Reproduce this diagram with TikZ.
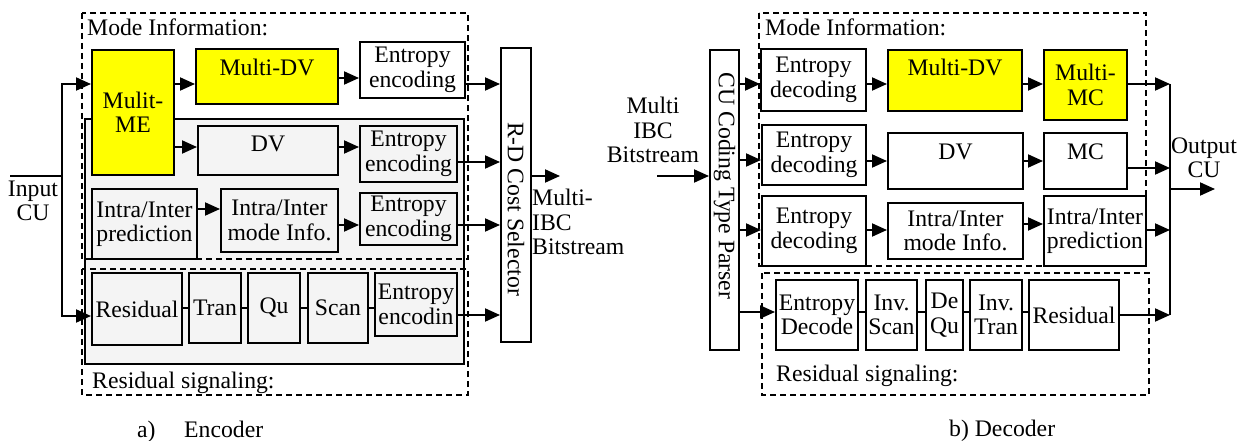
\documentclass[tikz,border=0pt]{standalone}
\usepackage{fontspec}
\setmainfont{Liberation Serif}
\usetikzlibrary{arrows.meta}
\definecolor{hiyel}{RGB}{255,255,0}
\definecolor{areagray}{RGB}{244,244,244}
\newcommand\mkbox[7]{%
  \pgfmathsetmacro\mbw{#5-#3}\pgfmathsetmacro\mbh{#6-#4}%
  \pgfmathsetmacro\mbx{(#3+#5)/2}\pgfmathsetmacro\mby{(#4+#6)/2}%
  \node[#1, minimum width=\mbw pt, minimum height=\mbh pt] (#2) at (\mbx,\mby) {#7};}
\begin{document}
\begin{tikzpicture}[x=1pt,y=-1pt,
  every node/.style={font=\fontsize{23.7}{24.5}\selectfont, text=black},
  box/.style={draw, line width=2pt, inner sep=0pt, align=center, fill=white},
  ybox/.style={box, fill=hiyel},
  gbox/.style={box, fill=areagray},
  area/.style={draw, line width=2pt, fill=areagray},
  dbox/.style={draw, line width=1.6pt, dash pattern=on 6pt off 4pt},
  arr/.style={line width=2pt, -{Triangle[length=15pt,width=13pt]}},
  link/.style={line width=2pt},
  lbl/.style={inner sep=0pt, align=left}]
\useasboundingbox (0,0) rectangle (1247,441);
\foreach \v in {78,84,147,160,161,162,168,209,224,225,230,308,312,315,316}
  \coordinate (h\v) at (0,\v);

% ================= ENCODER =================
\draw[area] (85,119) rectangle (464,364);
\draw[dbox] (82,13) rectangle (468,259);
\draw[dbox] (82,269) rectangle (468,395);
\node[lbl, anchor=base west] (emi) at (87,36) {Mode Information:};
\node[lbl, anchor=base west] (ers) at (92,388) {Residual signaling:};

\mkbox{ybox}{ME}{92}{50}{174}{175}{Mulit-\\ME}
\mkbox{ybox, text depth=19pt}{MDV}{196}{49}{338}{104}{Multi-DV}
\mkbox{box}{EE1}{360}{42}{465}{98}{Entropy\\encoding}
\mkbox{gbox, text depth=14pt}{DV}{198}{126}{338}{175}{DV}
\mkbox{gbox}{EE2}{360}{126}{457}{182}{Entropy\\encoding}
\mkbox{gbox}{IP}{92}{189}{197}{259}{Intra/Inter\\prediction}
\mkbox{gbox}{IM}{221}{189}{338}{252}{Intra/Inter\\mode Info.}
\mkbox{gbox}{EE3}{360}{193}{457}{245}{Entropy\\encoding}
\mkbox{gbox}{RES}{92}{273}{182}{345}{Residual}
\mkbox{gbox}{TR}{189}{273}{241}{343}{Tran}
\mkbox{gbox}{QU}{248}{273}{300}{343}{Qu}
\mkbox{gbox}{SC}{308}{273}{368}{343}{Scan}
\mkbox{gbox}{EEN}{375}{273}{457}{336}{Entropy\\encodin}
\mkbox{box}{RD}{501}{48}{531}{342}{\rotatebox{-90}{\hspace*{28pt}R-D Cost Selector}}

\node[lbl, align=center] (incu) at (33,201) {Input\\CU};
\coordinate (inl) at (10,176);
\coordinate (inj) at (62,176);
\draw[link] (inl) -- (inj);
\draw[arr] (inj) |- (ME.west |- h84);
\draw[arr] (inj) |- (RES.west |- h316);

\draw[arr] (ME.east |- h84) -- (MDV.west |- h84);
\draw[arr] (MDV.east |- h78) -- (EE1.west |- h78);
\draw[arr] (ME.east |- h147) -- (DV.west |- h147);
\draw[arr] (DV.east |- h147) -- (EE2.west |- h147);
\draw[arr] (IP.east |- h209) -- (IM.west |- h209);
\draw[arr] (IM.east |- h225) -- (EE3.west |- h225);
\draw[link] (RES.east |- h308) -- (TR.west |- h308);
\draw[link] (TR.east |- h308) -- (QU.west |- h308);
\draw[link] (QU.east |- h308) -- (SC.west |- h308);
\draw[link] (SC.east |- h308) -- (EEN.west |- h308);
\draw[arr] (EE1.east |- h84) -- (RD.west |- h84);
\draw[arr] (EE2.east |- h162) -- (RD.west |- h162);
\draw[arr] (EE3.east |- h225) -- (RD.west |- h225);
\draw[arr] (EEN.east |- h315) -- (RD.west |- h315);
\coordinate (eout) at (560,176);
\draw[arr] (RD.east |- eout) -- (eout);
\node[lbl, anchor=west] (ebits) at (532,222) {Multi-\\IBC\\Bitstream};

% ================= DECODER =================
\draw[dbox] (759,13) rectangle (1146,266);
\draw[dbox] (762,273) rectangle (1149,395);
\node[lbl, anchor=base west] (dmi) at (765,36) {Mode Information:};
\node[lbl, anchor=base west] (drs) at (776,381) {Residual signaling:};
\node[lbl, align=center] (dbits) at (653,130) {Multi\\IBC\\Bitstream};

\mkbox{box}{PR}{710}{50}{739}{350}{\rotatebox{-90}{CU Coding Type Parser\hspace*{28pt}}}
\coordinate (din) at (657,176);
\draw[arr] (din) -- (PR.west |- din);

\mkbox{box}{ED1}{761}{49}{866}{111}{Entropy\\decoding}
\mkbox{ybox, text depth=26pt}{MDV2}{888}{50}{1022}{111}{Multi-DV}
\mkbox{ybox}{MMC}{1044}{50}{1127}{120}{Multi-\\MC}
\mkbox{box}{ED2}{762}{125}{866}{185}{Entropy\\decoding}
\mkbox{box, text depth=18pt}{DV2}{888}{133}{1023}{189}{DV}
\mkbox{box, text depth=18pt}{MC}{1044}{133}{1127}{189}{MC}
\mkbox{box}{ED3}{762}{196}{866}{266}{Entropy\\decoding}
\mkbox{box}{IM2}{888}{203}{1023}{259}{Intra/Inter\\mode Info.}
\mkbox{box}{IP2}{1044}{196}{1146}{266}{Intra/Inter\\prediction}
\mkbox{box}{EDC}{776}{280}{858}{350}{Entropy\\Decode}
\mkbox{box}{IS}{866}{280}{917}{350}{Inv.\\Scan}
\mkbox{box}{DQ}{926}{280}{963}{350}{De\\Qu}
\mkbox{box}{IT}{970}{280}{1022}{350}{Inv.\\Tran}
\mkbox{box}{RS2}{1029}{280}{1119}{350}{Residual}

\draw[arr] (PR.east |- h84) -- (ED1.west |- h84);
\draw[arr] (PR.east |- h160) -- (ED2.west |- h160);
\draw[arr] (PR.east |- h230) -- (ED3.west |- h230);
\draw[arr] (PR.east |- h312) -- (EDC.west |- h312);
\draw[arr] (ED1.east |- h84) -- (MDV2.west |- h84);
\draw[arr] (MDV2.east |- h84) -- (MMC.west |- h84);
\draw[arr] (ED2.east |- h161) -- (DV2.west |- h161);
\draw[arr] (DV2.east |- h161) -- (MC.west |- h161);
\draw[arr] (ED3.east |- h230) -- (IM2.west |- h230);
\draw[arr] (IM2.east |- h224) -- (IP2.west |- h224);
\draw[link] (EDC.east |- h312) -- (IS.west |- h312);
\draw[link] (IS.east |- h312) -- (DQ.west |- h312);
\draw[link] (DQ.east |- h312) -- (IT.west |- h312);
\draw[link] (IT.east |- h312) -- (RS2.west |- h312);

\coordinate (jt) at (1170,84);
\coordinate (jb) at (1170,315);
\draw[link] (jt) -- (jb);
\draw[arr] (MMC.east |- jt) -- (jt);
\draw[arr] (MC.east |- h168) -- (jt |- h168);
\draw[arr] (IP2.east |- h230) -- (jt |- h230);
\draw[arr] (RS2.east |- jb) -- (jb);
\coordinate (dout) at (1215,189);
\draw[arr] (jt |- dout) -- (dout);
\node[lbl, align=center] (ocu) at (1204,158) {Output\\CU};

% captions
\node[lbl, anchor=base west] (capa) at (137,437) {a)};
\node[lbl, anchor=base west] (cape) at (184,437) {Encoder};
\node[lbl, anchor=base west] (capb) at (949,436) {b) Decoder};
\end{tikzpicture}
\end{document}
